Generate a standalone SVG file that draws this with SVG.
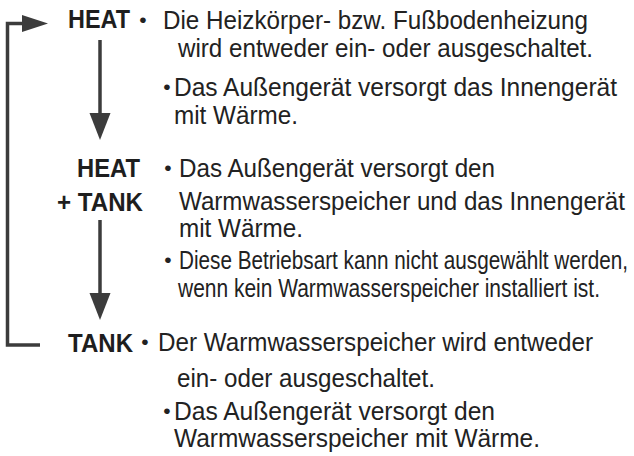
<svg xmlns="http://www.w3.org/2000/svg" width="634" height="456" viewBox="0 0 634 456">
  <style>
    .lbl { font-family: "Liberation Sans", Arial, sans-serif; font-weight: bold; font-size: 26px; fill: #1e1e1e; }
    .txt { font-family: "Liberation Sans", Arial, sans-serif; font-size: 26.5px; fill: #222; }
    .bul { font-family: "Liberation Sans", Arial, sans-serif; font-size: 21px; fill: #222; text-anchor: middle; }
    .conn { fill: none; stroke: #3c3c3c; stroke-width: 3.5; }
    .head { fill: #3c3c3c; }
  </style>
  <rect width="634" height="456" fill="#ffffff"/>
  <g id="connectors">
    <path class="conn" d="M40,345 H7.5 V23.5 H26"/>
    <polygon class="head" points="22,15 48,23.5 22,32"/>
    <line class="conn" x1="100" y1="40" x2="100" y2="115"/>
    <polygon class="head" points="89.5,113 110.5,113 100,140"/>
    <line class="conn" x1="100" y1="220" x2="100" y2="295"/>
    <polygon class="head" points="89.5,293 110.5,293 100,320"/>
  </g>
  <g id="heat">
    <text class="lbl" x="68" y="28" textLength="62" lengthAdjust="spacingAndGlyphs">HEAT</text>
    <text class="bul" x="143" y="27">•</text>
    <text class="txt" x="163" y="29" textLength="425" lengthAdjust="spacingAndGlyphs">Die Heizkörper- bzw. Fußbodenheizung</text>
    <text class="txt" x="178" y="57" textLength="415" lengthAdjust="spacingAndGlyphs">wird entweder ein- oder ausgeschaltet.</text>
    <text class="bul" x="167" y="94">•</text>
    <text class="txt" x="174" y="96" textLength="443" lengthAdjust="spacingAndGlyphs">Das Außengerät versorgt das Innengerät</text>
    <text class="txt" x="174" y="124" textLength="124" lengthAdjust="spacingAndGlyphs">mit Wärme.</text>
  </g>
  <g id="heat-tank">
    <text class="lbl" x="140" y="177" text-anchor="end" textLength="63" lengthAdjust="spacingAndGlyphs">HEAT</text>
    <text class="lbl" x="143" y="211" text-anchor="end" textLength="86" lengthAdjust="spacingAndGlyphs">+ TANK</text>
    <text class="bul" x="168" y="175">•</text>
    <text class="txt" x="179" y="177" textLength="316" lengthAdjust="spacingAndGlyphs">Das Außengerät versorgt den</text>
    <text class="txt" x="179" y="210" textLength="446" lengthAdjust="spacingAndGlyphs">Warmwasserspeicher und das Innengerät</text>
    <text class="txt" x="179" y="237" textLength="124" lengthAdjust="spacingAndGlyphs">mit Wärme.</text>
    <text class="bul" x="168" y="267">•</text>
    <text class="txt" x="179" y="269" textLength="449" lengthAdjust="spacingAndGlyphs">Diese Betriebsart kann nicht ausgewählt werden,</text>
    <text class="txt" x="178" y="297" textLength="422" lengthAdjust="spacingAndGlyphs">wenn kein Warmwasserspeicher installiert ist.</text>
  </g>
  <g id="tank">
    <text class="lbl" x="68" y="352" textLength="65" lengthAdjust="spacingAndGlyphs">TANK</text>
    <text class="bul" x="145" y="349">•</text>
    <text class="txt" x="158" y="351" textLength="435" lengthAdjust="spacingAndGlyphs">Der Warmwasserspeicher wird entweder</text>
    <text class="txt" x="177" y="387" textLength="258" lengthAdjust="spacingAndGlyphs">ein- oder ausgeschaltet.</text>
    <text class="bul" x="167" y="418">•</text>
    <text class="txt" x="174" y="420" textLength="321" lengthAdjust="spacingAndGlyphs">Das Außengerät versorgt den</text>
    <text class="txt" x="174" y="447" textLength="366" lengthAdjust="spacingAndGlyphs">Warmwasserspeicher mit Wärme.</text>
  </g>
</svg>
